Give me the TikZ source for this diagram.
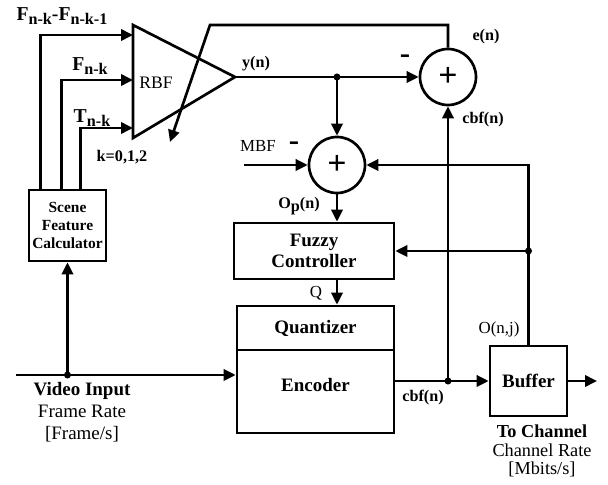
\documentclass[tikz,border=0pt]{standalone}
\usepackage{fontspec}
\setmainfont{Liberation Serif}
\usetikzlibrary{positioning, arrows.meta, calc}
\newcommand{\lowsub}[1]{\raisebox{-0.45ex}{\fontsize{11.5}{11.5}\selectfont #1}}

\begin{document}
\begin{tikzpicture}[x=0.025cm, y=-0.025cm,
  blk/.style={draw, line width=1.9pt, inner sep=0pt, align=center,
              font=\fontsize{13.5}{15}\selectfont\bfseries},
  sumc/.style={draw, circle, line width=1.9pt, minimum size=1.4cm, inner sep=0pt,
               font=\fontsize{24}{24}\selectfont\bfseries},
  arr/.style={-{Triangle[length=8.5pt, width=8pt]}, line width=1.9pt},
  wire/.style={line width=1.9pt},
  dot/.style={circle, fill, inner sep=0pt, minimum size=5pt},
  lbl/.style={font=\fontsize{11.5}{12}\selectfont\bfseries, inner sep=1pt},
  rlbl/.style={font=\fontsize{12}{12}\selectfont, inner sep=1pt},
  big/.style={font=\fontsize{14}{15}\selectfont\bfseries, inner sep=1pt},
  sign/.style={font=\fontsize{22}{22}\selectfont\bfseries, inner sep=0pt}]

  \useasboundingbox (0,0) rectangle (608,485);

  % blocks
  \node[blk, minimum width=1.925cm, minimum height=1.775cm,
        font=\fontsize{11}{13}\selectfont\bfseries] (scene) at (67.5,225.5) {Scene\\Feature\\Calculator};
  \node[blk, minimum width=4cm, minimum height=1.4cm] (fuzzy) at (314,251) {Fuzzy\\Controller};
  \node[blk, minimum width=3.925cm, minimum height=1.1cm] (quant) at (315.5,328) {Quantizer};
  \node[blk, minimum width=3.925cm, minimum height=2.075cm] (enc) at (315.5,391.5)
       {\raisebox{4.5pt}[\height][\depth]{Encoder}};
  \node[blk, minimum width=1.925cm, minimum height=1.75cm] (buffer) at (528.5,381) {Buffer};
  \node[sumc] (sum1) at (448,77) {+};
  \node[sumc] (sum2) at (337,165) {+};

  % RBF network
  \coordinate (rbfin1) at (133,35);
  \coordinate (rbfin2) at (133,80);
  \coordinate (rbfin3) at (133,128);
  \coordinate (rbfout) at (235,77);
  \draw[wire, line join=miter] (133,25) -- (rbfout) -- (133,138) -- cycle;
  \node[rlbl, font=\fontsize{12.5}{12.5}\selectfont] (rbf) at (156,83) {RBF};

  \draw[arr] ($(scene.north west)+(13,0)$) |- (rbfin1);
  \draw[arr] ($(scene.north west)+(34,0)$) |- (rbfin2);
  \draw[arr] ($(scene.north west)+(53,0)$) |- (rbfin3);

  % error feedback into the network
  \coordinate (fbtop) at (210,25);
  \coordinate (fbend) at (170,142);
  \draw[arr] (sum1.north) |- (fbtop) -- (fbend);

  \draw[arr] (rbfout) -- (sum1.west);
  \coordinate (ysplit) at (sum2.north |- rbfout);
  \node[dot] (ydot) at (ysplit) {};
  \draw[arr] (ysplit) -- (sum2.north);

  \coordinate (mbfin) at (244,165);
  \draw[arr] (mbfin) -- (sum2.west);
  \draw[arr] (sum2.south) -- (fuzzy.north -| sum2.south);
  \draw[arr] (fuzzy.south -| sum2.south) -- (quant.north -| sum2.south);

  % video path
  \coordinate (vin) at (16,375);
  \draw[arr] (vin) -- (vin -| enc.west);
  \coordinate (vsplit) at (scene.south |- vin);
  \node[dot] (vdot) at (vsplit) {};
  \draw[arr] (vsplit) -- (scene.south);

  \coordinate (encout) at (enc.east |- buffer.west);
  \draw[arr] (encout) -- (buffer.west);
  \coordinate (cbfsplit) at (sum1.south |- buffer.west);
  \node[dot] (cdot) at (cbfsplit) {};
  \draw[arr] (cbfsplit) -- (sum1.south);
  \coordinate (chan) at (597,381);
  \draw[arr] (buffer.east) -- (chan);

  % buffer occupancy feedback
  \draw[arr] (buffer.north) |- (sum2.east);
  \coordinate (bsplit) at (buffer.north |- fuzzy.east);
  \node[dot] (bdot) at (bsplit) {};
  \draw[arr] (bsplit) -- (fuzzy.east);

  % labels
  \node[big] (fdiff) at (62,16) {F\lowsub{n-k}-F\lowsub{n-k-1}};
  \node[big] (fcur) at (90,66) {F\lowsub{n-k}};
  \node[big] (tcur) at (92,118) {T\lowsub{n-k}};
  \node[lbl] (klbl) at (122,157) {k=0,1,2};
  \node[lbl] (ylbl) at (256,64) {y(n)};
  \node[sign] (minus1) at (405,59) {-};
  \node[lbl] (elbl) at (486,37) {e(n)};
  \node[lbl] (cbf1) at (483,120) {cbf(n)};
  \node[rlbl] (mbf) at (258,146) {MBF};
  \node[sign] (minus2) at (294,146) {-};
  \node[lbl] (oplbl) at (299,206) {O\lowsub{p}(n)};
  \node[rlbl] (qlbl) at (316,293) {Q};
  \node[lbl] (cbf2) at (423,398) {cbf(n)};
  \node[rlbl] (onj) at (499,329) {O(n,j)};
  \node[align=center, inner sep=0pt, font=\fontsize{13.5}{15.6}\selectfont] (vlbl) at (82,412)
       {\textbf{Video Input}\\Frame Rate\\{}[Frame/s]};
  \node[align=center, inner sep=0pt, font=\fontsize{13}{13.2}\selectfont] (clbl) at (542,451)
       {\textbf{To Channel}\\Channel Rate\\{}[Mbits/s]};
\end{tikzpicture}
\end{document}
